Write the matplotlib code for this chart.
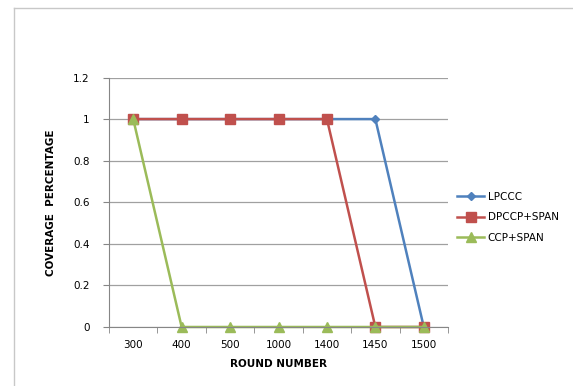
import matplotlib
matplotlib.use('Agg')
import matplotlib.pyplot as plt
from matplotlib.lines import Line2D

rounds = ['300', '400', '500', '1000', '1400', '1450', '1500']
lpccc = [1, 1, 1, 1, 1, 1, 0]
dpccp_span = [1, 1, 1, 1, 1, 0, 0]
ccp_span = [1, 0, 0, 0, 0, 0, 0]
names = ['LPCCC', 'DPCCP+SPAN', 'CCP+SPAN']
yticks = [0, 0.2, 0.4, 0.6, 0.8, 1, 1.2]
ylabels = ['0', '0.2', '0.4', '0.6', '0.8', '1', '1.2']

W, H = 573, 386
fig = plt.figure(figsize=(W/100, H/100), dpi=100)
# outer chart border (only left and top edges are visible in the crop)
fig.add_artist(Line2D([14/W, 14/W], [0, (H-8)/H], transform=fig.transFigure,
                      color='#c8c8c8', linewidth=1.0))
fig.add_artist(Line2D([14/W, 1], [(H-8)/H, (H-8)/H], transform=fig.transFigure,
                      color='#c8c8c8', linewidth=1.0))

ax = fig.add_axes([109/W, (H-327)/H, (448-109)/W, (327-77.5)/H])
x = list(range(len(rounds)))
ax.plot(x, lpccc, color='#4F81BD', marker='D', markersize=4, linewidth=1.8,
        label=names[0], clip_on=False)
ax.plot(x, dpccp_span, color='#C0504D', marker='s', markersize=6.5, linewidth=1.8,
        label=names[1], clip_on=False)
ax.plot(x, ccp_span, color='#9BBB59', marker='^', markersize=6.5, linewidth=1.8,
        label=names[2], clip_on=False)

ax.set_xlim(-0.5, len(rounds) - 0.5)
ax.set_ylim(0, 1.2)
ax.set_yticks(yticks)
ax.set_yticklabels(ylabels)
ax.set_xticks(x)
ax.set_xticklabels(rounds)
ax.set_xticks([i - 0.5 for i in range(len(rounds) + 1)], minor=True)
ax.tick_params(axis='x', which='major', length=0, pad=9, labelsize=7.5)
ax.tick_params(axis='x', which='minor', length=4, color='#868686', direction='out')
ax.tick_params(axis='y', length=4, color='#868686', pad=10, labelsize=7.5)
ax.yaxis.grid(True, color='#a0a0a0', linewidth=0.9)
ax.set_axisbelow(True)
for s in ['top', 'right']:
    ax.spines[s].set_visible(False)
for s in ['left', 'bottom']:
    ax.spines[s].set_color('#868686')

ax.set_xlabel('ROUND NUMBER', fontsize=7.5, fontweight='bold', labelpad=7)
ax.set_ylabel('COVERAGE  PERCENTAGE', fontsize=7.5, fontweight='bold', labelpad=12)

ax.legend(loc='center left', bbox_to_anchor=(1.0, 0.44), frameon=False, fontsize=7.5,
          handlelength=2.6, handletextpad=0.3, labelspacing=1.0)

fig.savefig('out.png', dpi=100)
